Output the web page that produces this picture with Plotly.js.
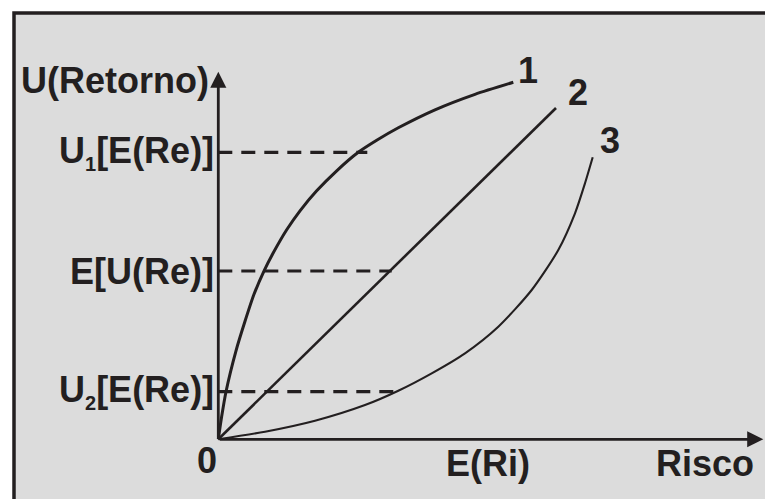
<!DOCTYPE html>
<html>
<head>
<meta charset="utf-8">
<script src="https://cdn.plot.ly/plotly-3.0.1.min.js"></script>
<style>html,body{margin:0;padding:0;background:#fff;}#chart{width:765px;height:499px;}</style>
</head>
<body>
<div id="chart"></div>
<script>
// ---- data (chart units: origin at axis crossing) ----
var curve1X = [0, 3.4, 7.7, 17.7, 26.7, 35.7, 46, 55, 68.4, 81.7, 98.4, 118.4, 140, 158.4, 180, 216.7, 256.7, 295];
var curve1Y = [0, 23, 47.6, 88.5, 118, 145, 169, 186.5, 209.5, 228.5, 248.5, 268.5, 287, 299, 311.5, 329.5, 345, 357];
var curve2X = [0, 337.7];
var curve2Y = [0, 331.3];
var curve3X = [0, 46.7, 96.7, 146.7, 180, 213.4, 246.7, 280, 313.4, 340, 356.7, 366.7, 374.4];
var curve3Y = [0, 7.6, 18.6, 34.3, 48.6, 66, 86, 112.6, 149.3, 189.3, 226, 256, 282];
var curveNames = ['1', '2', '3'];
var levelLabels = ['U<sub><span style="font-size:20px">1</span></sub>[E(Re)]', 'E[U(Re)]', 'U<sub><span style="font-size:20px">2</span></sub>[E(Re)]'];
var levelY = [287, 168.3, 47.6];
var levelEndX = [149, 173.4, 183.4];
var yAxisTitle = 'U(Retorno)';
var xAxisTitle = 'Risco';
var xMidLabel = 'E(Ri)';
var originLabel = '0';
var axisEndX = 545;
var axisEndY = 367.6;

// ---- styling ----
var INK = '#231f20';
var FONT = {family: 'Liberation Sans, Arial, sans-serif', size: 36, color: INK, weight: 700};

var traces = [
  {x: curve1X, y: curve1Y, mode: 'lines', line: {color: INK, width: 3, shape: 'spline', smoothing: 0.7}, hoverinfo: 'skip'},
  {x: curve2X, y: curve2Y, mode: 'lines', line: {color: INK, width: 2.6}, hoverinfo: 'skip'},
  {x: curve3X, y: curve3Y, mode: 'lines', line: {color: INK, width: 2.1, shape: 'spline', smoothing: 0.7}, hoverinfo: 'skip'}
];
for (var i = 0; i < levelY.length; i++) {
  traces.push({x: [0, levelEndX[i]], y: [levelY[i], levelY[i]], mode: 'lines',
    line: {color: INK, width: 3.2, dash: '14px,9px'}, hoverinfo: 'skip'});
}

var ann = [];
// axes with arrows
ann.push({x: 0, y: axisEndY, ax: 0, ay: 0, xref: 'x', yref: 'y', axref: 'x', ayref: 'y',
  showarrow: true, arrowhead: 2, arrowsize: 1.15, arrowwidth: 2.8, arrowcolor: INK, text: ''});
ann.push({x: axisEndX, y: 0, ax: 0, ay: 0, xref: 'x', yref: 'y', axref: 'x', ayref: 'y',
  showarrow: true, arrowhead: 2, arrowsize: 1.15, arrowwidth: 2.8, arrowcolor: INK, text: ''});
// level labels
var labelPos = [[-2, 287], [-2, 168.3], [-2, 47.6]];
for (var j = 0; j < levelLabels.length; j++) {
  ann.push({x: labelPos[j][0], y: labelPos[j][1], xanchor: 'right', yanchor: 'middle',
    text: levelLabels[j], showarrow: false, font: FONT});
}
// curve numbers
var numPos = [[310, 369], [360, 347], [392, 299]];
for (var k = 0; k < curveNames.length; k++) {
  ann.push({x: numPos[k][0], y: numPos[k][1], xanchor: 'center', yanchor: 'middle',
    text: curveNames[k], showarrow: false, font: FONT});
}
ann.push({x: -7, y: 359, xanchor: 'right', yanchor: 'middle', text: yAxisTitle, showarrow: false, font: FONT});
ann.push({x: -11, y: -21, xanchor: 'center', yanchor: 'middle', text: originLabel, showarrow: false, font: FONT});
ann.push({x: 270, y: -24, xanchor: 'center', yanchor: 'middle', text: xMidLabel, showarrow: false, font: FONT});
ann.push({x: 487, y: -24, xanchor: 'center', yanchor: 'middle', text: xAxisTitle, showarrow: false, font: FONT});

var layout = {
  width: 765, height: 499,
  margin: {l: 0, r: 0, t: 0, b: 0},
  paper_bgcolor: '#ffffff',
  plot_bgcolor: 'rgba(0,0,0,0)',
  showlegend: false,
  xaxis: {range: [-218.3, 546.7], visible: false, fixedrange: true},
  yaxis: {range: [-59.7, 439.3], visible: false, fixedrange: true},
  shapes: [
    {type: 'rect', xref: 'paper', yref: 'paper', x0: 14 / 765, x1: 1.05, y0: -0.05, y1: 1 - 13 / 499,
      fillcolor: '#dcdcdc', line: {color: INK, width: 3.5}, layer: 'below'}
  ],
  annotations: ann
};

Plotly.newPlot('chart', traces, layout, {staticPlot: true, displayModeBar: false});
</script>
</body>
</html>
